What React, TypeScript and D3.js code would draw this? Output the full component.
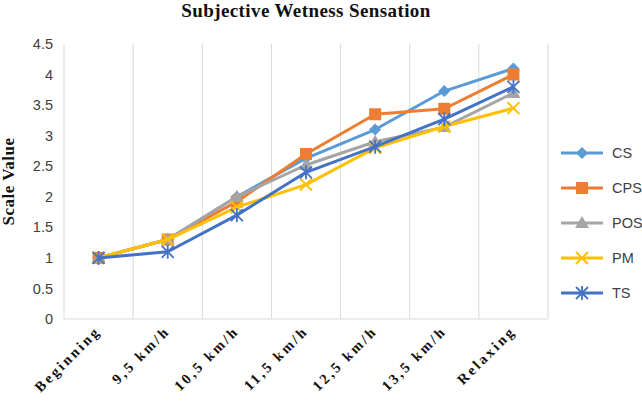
import { useRef, useEffect } from "react";
import * as d3 from "d3";

const categories = ["Beginning", "9,5 km/h", "10,5 km/h", "11,5 km/h", "12,5 km/h", "13,5 km/h", "Relaxing"];
const seriesNames = ["CS", "CPS", "POS", "PM", "TS"];
const csValues = [1, 1.3, 2.0, 2.63, 3.1, 3.73, 4.1];
const cpsValues = [1, 1.3, 1.92, 2.7, 3.35, 3.44, 4.0];
const posValues = [1, 1.3, 2.0, 2.52, 2.9, 3.14, 3.7];
const pmValues = [1, 1.3, 1.83, 2.2, 2.8, 3.15, 3.45];
const tsValues = [1, 1.1, 1.7, 2.4, 2.82, 3.27, 3.8];
const yTicks = [0, 0.5, 1, 1.5, 2, 2.5, 3, 3.5, 4, 4.5];
const colors = ["#5B9BD5", "#ED7D31", "#A5A5A5", "#FFC000", "#4472C4"];
const markers = ["diamond", "square", "triangle", "cross", "asterisk"];

const W = 642;
const H = 402;

function drawMarker(g: d3.Selection<SVGGElement, unknown, null, undefined>, kind: string, x: number, y: number, color: string) {
    if (kind === "diamond") {
        g.append("path").attr("d", `M${x},${y - 6}L${x + 6},${y}L${x},${y + 6}L${x - 6},${y}Z`).attr("fill", color);
    } else if (kind === "square") {
        g.append("rect").attr("x", x - 6).attr("y", y - 6).attr("width", 12).attr("height", 12).attr("fill", color);
    } else if (kind === "triangle") {
        g.append("path").attr("d", `M${x},${y - 7}L${x + 7},${y + 5}L${x - 7},${y + 5}Z`).attr("fill", color);
    } else if (kind === "cross") {
        g.append("path")
            .attr("d", `M${x - 6},${y - 6}L${x + 6},${y + 6}M${x - 6},${y + 6}L${x + 6},${y - 6}`)
            .attr("stroke", color).attr("stroke-width", 2);
    } else {
        g.append("path")
            .attr("d", `M${x - 6},${y - 6}L${x + 6},${y + 6}M${x - 6},${y + 6}L${x + 6},${y - 6}M${x},${y - 7}L${x},${y + 7}`)
            .attr("stroke", color).attr("stroke-width", 1.8);
    }
}

export default function App() {
    const svgRef = useRef<SVGSVGElement | null>(null);

    useEffect(() => {
        if (!svgRef.current) return;
        const svg = d3.select(svgRef.current);
        svg.selectAll("*").remove();

        const margin = { top: 44, right: 94, bottom: 83, left: 64 };
        const allSeries = [csValues, cpsValues, posValues, pmValues, tsValues];

        const x = d3.scaleBand().domain(categories).range([margin.left, W - margin.right]);
        const y = d3.scaleLinear().domain([0, 4.5]).range([H - margin.bottom, margin.top]);

        svg.append("rect").attr("width", W).attr("height", H).attr("fill", "#fff");

        // title
        svg.append("text")
            .attr("x", 306).attr("y", 17)
            .attr("text-anchor", "middle")
            .attr("font-family", "'Liberation Serif', 'Times New Roman', serif")
            .attr("font-weight", "bold").attr("font-size", 19)
            .attr("letter-spacing", 0.4)
            .attr("fill", "#111")
            .text("Subjective Wetness Sensation");

        // vertical gridlines at category boundaries
        const bounds = categories.map(c => x(c)! + x.bandwidth());
        svg.append("g").selectAll("line").data(bounds).enter().append("line")
            .attr("x1", d => d).attr("x2", d => d)
            .attr("y1", margin.top).attr("y2", H - margin.bottom)
            .attr("stroke", "#d9d9d9").attr("stroke-width", 1);

        // axis lines
        svg.append("line")
            .attr("x1", margin.left).attr("x2", margin.left)
            .attr("y1", margin.top).attr("y2", H - margin.bottom)
            .attr("stroke", "#d9d9d9");
        svg.append("line")
            .attr("x1", margin.left).attr("x2", W - margin.right)
            .attr("y1", H - margin.bottom).attr("y2", H - margin.bottom)
            .attr("stroke", "#d9d9d9");

        // y ticks
        svg.append("g").selectAll("text").data(yTicks).enter().append("text")
            .attr("x", margin.left - 11).attr("y", d => y(d))
            .attr("dy", "0.35em")
            .attr("text-anchor", "end")
            .attr("font-family", "'Liberation Sans', Arial, sans-serif")
            .attr("font-size", 14.5)
            .attr("fill", "#404040")
            .text(d => String(d));

        // y title
        svg.append("text")
            .attr("transform", `translate(14,${(margin.top + H - margin.bottom) / 2}) rotate(-90)`)
            .attr("text-anchor", "middle")
            .attr("font-family", "'Liberation Serif', 'Times New Roman', serif")
            .attr("font-weight", "bold").attr("font-size", 17)
            .attr("letter-spacing", 0.5)
            .attr("fill", "#111")
            .text("Scale Value");

        // x labels
        svg.append("g").selectAll("text").data(categories).enter().append("text")
            .attr("transform", d => `translate(${x(d)! + x.bandwidth() / 2 + 3},${H - margin.bottom + 13}) rotate(-45)`)
            .attr("text-anchor", "end")
            .attr("font-family", "'Liberation Serif', 'Times New Roman', serif")
            .attr("font-weight", "bold").attr("font-size", 14.5)
            .attr("letter-spacing", 2.6)
            .attr("fill", "#111")
            .text(d => d);

        // lines
        const line = d3.line<number>()
            .x((_, i) => x(categories[i])! + x.bandwidth() / 2)
            .y(d => y(d));

        allSeries.forEach((vals, si) => {
            svg.append("path")
                .datum(vals)
                .attr("d", line)
                .attr("fill", "none")
                .attr("stroke", colors[si])
                .attr("stroke-width", 3)
                .attr("stroke-linejoin", "round");
            const mg = svg.append("g");
            vals.forEach((v, i) => drawMarker(mg, markers[si], x(categories[i])! + x.bandwidth() / 2, y(v), colors[si]));
        });

        // legend
        const lg = svg.append("g");
        seriesNames.forEach((name, i) => {
            const ly = 153 + i * 35;
            lg.append("line")
                .attr("x1", 561).attr("x2", 603).attr("y1", ly).attr("y2", ly)
                .attr("stroke", colors[i]).attr("stroke-width", 3);
            const g = lg.append("g");
            drawMarker(g, markers[i], 582, ly, colors[i]);
            lg.append("text")
                .attr("x", 612).attr("y", ly).attr("dy", "0.35em")
                .attr("font-family", "'Liberation Sans', Arial, sans-serif")
                .attr("font-size", 14.5)
                .attr("fill", "#404040")
                .text(name);
        });
    }, []);

    return (
        <svg ref={svgRef} width={W} height={H} style={{ position: "absolute", left: 0, top: 0 }} />
    );
}
